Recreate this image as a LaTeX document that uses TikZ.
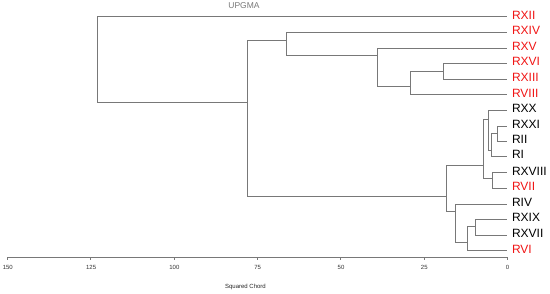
\documentclass[tikz,border=0pt]{standalone}
\usepackage{fontspec}
\setmainfont{Liberation Sans}
\definecolor{linegray}{RGB}{120,120,120}
\definecolor{labred}{RGB}{240,20,20}
\definecolor{titlegray}{RGB}{120,120,120}
\begin{document}
\begin{tikzpicture}[x=1pt,y=-1pt,
  edge/.style={draw=linegray, line width=0.75pt},
  lab/.style={anchor=west, inner sep=0pt, font=\fontsize{12}{13}\selectfont, yshift=1.7pt, xshift=4.5pt},
  redlab/.style={lab, text=labred},
  blklab/.style={lab, text=black},
  ticklab/.style={font=\fontsize{6}{7}\selectfont, text=black!80, inner sep=0pt},
  axislab/.style={font=\fontsize{6}{7}\selectfont, text=black!85, inner sep=0pt},
  titlelab/.style={font=\fontsize{8.5}{10}\selectfont, text=titlegray, inner sep=0pt}]
\useasboundingbox (0,0) rectangle (550,294);

% leaf tips (distance 0)
\coordinate (tRXII)   at (507.3,16.7);
\coordinate (tRXIV)   at (507.3,32.3);
\coordinate (tRXV)    at (507.3,47.9);
\coordinate (tRXVI)   at (507.3,63.5);
\coordinate (tRXIII)  at (507.3,79.1);
\coordinate (tRVIII)  at (507.3,94.7);
\coordinate (tRXX)    at (507.3,110.3);
\coordinate (tRXXI)   at (507.3,125.9);
\coordinate (tRII)    at (507.3,141.5);
\coordinate (tRI)     at (507.3,156.5);
\coordinate (tRXVIII) at (507.3,172.7);
\coordinate (tRVII)   at (507.3,188.3);
\coordinate (tRIV)    at (507.3,203.9);
\coordinate (tRXIX)   at (507.3,219.5);
\coordinate (tRXVII)  at (507.3,235.1);
\coordinate (tRVI)    at (507.3,250.7);

% leaf labels
\node[redlab] (lRXII)   at (tRXII)   {RXII};
\node[redlab] (lRXIV)   at (tRXIV)   {RXIV};
\node[redlab] (lRXV)    at (tRXV)    {RXV};
\node[redlab] (lRXVI)   at (tRXVI)   {RXVI};
\node[redlab] (lRXIII)  at (tRXIII)  {RXIII};
\node[redlab] (lRVIII)  at (tRVIII)  {RVIII};
\node[blklab] (lRXX)    at (tRXX)    {RXX};
\node[blklab] (lRXXI)   at (tRXXI)   {RXXI};
\node[blklab] (lRII)    at (tRII)    {RII};
\node[blklab] (lRI)     at (tRI)     {RI};
\node[blklab] (lRXVIII) at (tRXVIII) {RXVIII};
\node[redlab] (lRVII)   at (tRVII)   {RVII};
\node[blklab] (lRIV)    at (tRIV)    {RIV};
\node[blklab] (lRXIX)   at (tRXIX)   {RXIX};
\node[blklab] (lRXVII)  at (tRXVII)  {RXVII};
\node[redlab] (lRVI)    at (tRVI)    {RVI};

% internal nodes (x = height, y = attachment point)
\coordinate (R0)  at (97,60);
\coordinate (N1)  at (247.7,102.7);
\coordinate (N2)  at (286.5,40.7);
\coordinate (N3)  at (377.3,55.3);
\coordinate (N4)  at (410,86.7);
\coordinate (N5)  at (443,71.7);
\coordinate (N10) at (446,196);
\coordinate (NE)  at (483.3,165);
\coordinate (NF)  at (488,119.3);
\coordinate (NH)  at (491.7,150);
\coordinate (NG)  at (497,133);
\coordinate (NI)  at (492,178);
\coordinate (NC)  at (455,211.7);
\coordinate (NB)  at (467.3,242.7);
\coordinate (NA)  at (475.3,226.7);

% branches
\draw[edge] (R0) |- (tRXII);
\draw[edge] (R0) |- (N1);
\draw[edge] (N1) |- (N2);
\draw[edge] (N1) |- (N10);
\draw[edge] (N2) |- (tRXIV);
\draw[edge] (N2) |- (N3);
\draw[edge] (N3) |- (tRXV);
\draw[edge] (N3) |- (N4);
\draw[edge] (N4) |- (N5);
\draw[edge] (N4) |- (tRVIII);
\draw[edge] (N5) |- (tRXVI);
\draw[edge] (N5) |- (tRXIII);
\draw[edge] (N10) |- (NE);
\draw[edge] (N10) |- (NC);
\draw[edge] (NE) |- (NF);
\draw[edge] (NE) |- (NI);
\draw[edge] (NF) |- (tRXX);
\draw[edge] (NF) |- (NH);
\draw[edge] (NH) |- (NG);
\draw[edge] (NH) |- (tRI);
\draw[edge] (NG) |- (tRXXI);
\draw[edge] (NG) |- (tRII);
\draw[edge] (NI) |- (tRXVIII);
\draw[edge] (NI) |- (tRVII);
\draw[edge] (NC) |- (tRIV);
\draw[edge] (NC) |- (NB);
\draw[edge] (NB) |- (NA);
\draw[edge] (NB) |- (tRVI);
\draw[edge] (NA) |- (tRXIX);
\draw[edge] (NA) |- (tRXVII);

% axis
\coordinate (ax0) at (7.5,257.3);
\coordinate (ax1) at (507.3,257.3);
\draw[edge] (ax0) -- (ax1);
\foreach \d/\nm in {150/a150,125/a125,100/a100,75/a75,50/a50,25/a25,0/a0}{
  \coordinate (\nm) at ({507.3-3.332*\d},257.3);
  \draw[edge] (\nm) -- ++(0,3);
  \node[ticklab] (t\nm) at ({507.3-3.332*\d+0.3},267.3) {\d};
}
\node[axislab] (xtitle) at (245.5,286.7) {Squared Chord};
\node[titlelab] (title) at (244,6) {UPGMA};
\end{tikzpicture}
\end{document}
